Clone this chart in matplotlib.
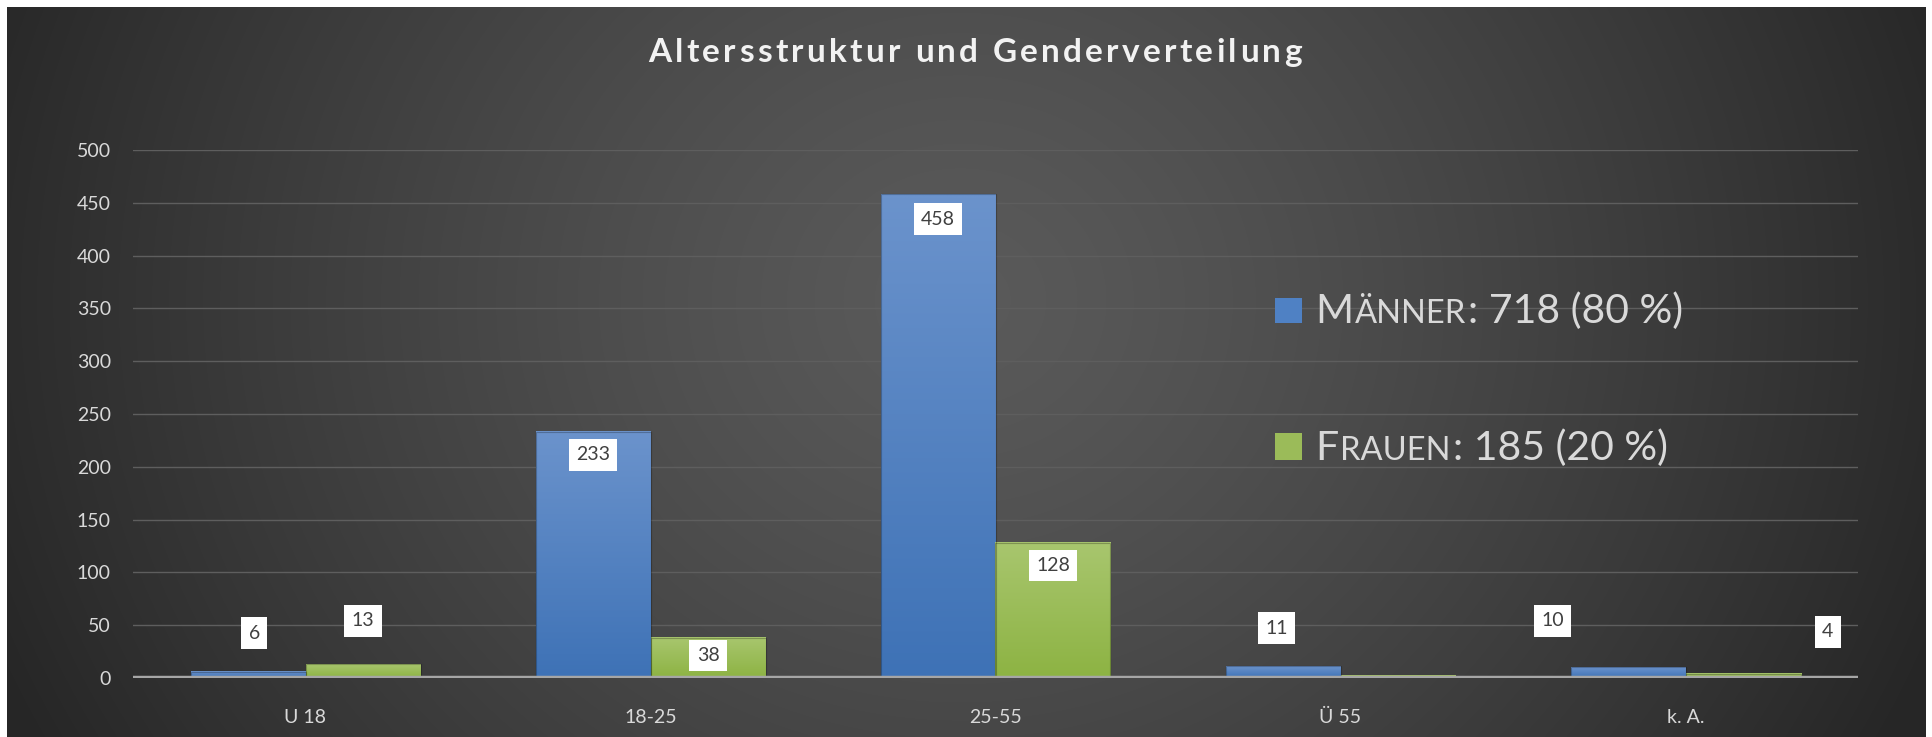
import numpy as np
import matplotlib
matplotlib.use("Agg")
import matplotlib.pyplot as plt
from matplotlib.patches import Rectangle
from matplotlib.font_manager import FontProperties

# ---------------- data ----------------
categories = ["U 18", "18-25", "25-55", "Ü 55", "k. A."]
maenner = [6, 233, 458, 11, 10]
frauen = [13, 38, 128, 2, 4]
yticks = [0, 50, 100, 150, 200, 250, 300, 350, 400, 450, 500]
title = "Altersstruktur und Genderverteilung"
legend_m = ("M", "ÄNNER", ": 718 (80 %)")
legend_f = ("F", "RAUEN", ": 185 (20 %)")
label_m = ["6", "233", "458", "11", "10"]
label_f = ["13", "38", "128", "", "4"]

# ---------------- layout (label placement) ----------------
lab_m_y = [42.6, 211.5, 434.4, 47, 54]
lab_f_y = [54, 21.3, 106.5, None, 43.6]
lab_m_dx = [0.018, 0.0, 0.0, -0.018, -0.218]
lab_f_dx = [0.0, 0.0, 0.0, 0.0, 0.246]

W, H = 1932, 737
DPI = 100
FONT = "Lato"
plt.rcParams["font.family"] = [FONT, "DejaVu Sans"]

fig = plt.figure(figsize=(W / DPI, H / DPI), dpi=DPI)
fig.patch.set_facecolor("white")

# background gradient
bg = fig.add_axes([0, 0, 1, 1], zorder=-10)
yy, xx = np.mgrid[0:H, 0:W]
cx, cy = 960, 300
d = np.sqrt(((xx - cx) / 1050.0) ** 2 + ((yy - cy) / 950.0) ** 2)
d = np.clip(d, 0, 1) ** 1.3
c_center, c_edge = 0x5a / 255.0, 0x26 / 255.0
val = c_center - (c_center - c_edge) * d
img = np.dstack([val, val, val])
# white frame
img[:7, :, :] = 1.0
img[:, :7, :] = 1.0
img[:, W - 6:, :] = 1.0
bg.imshow(img, extent=[0, W, H, 0], aspect="auto", interpolation="bilinear")
bg.set_xlim(0, W)
bg.set_ylim(H, 0)
bg.axis("off")

# main axes
left, right = 133 / W, 1858 / W
bottom = (H - 678) / H
top = (H - 150) / H
ax = fig.add_axes([left, bottom, right - left, top - bottom])
ax.patch.set_alpha(0)
for s in ax.spines.values():
    s.set_visible(False)

x = np.arange(len(categories))
bw = 1 / 3.0

def grad_bar(xc, h, ctop, cbot):
    ctop = np.array(matplotlib.colors.to_rgb(ctop))
    cbot = np.array(matplotlib.colors.to_rgb(cbot))
    t = np.linspace(0, 1, 64)[:, None]
    g = cbot[None, :] * (1 - t) + ctop[None, :] * t
    g = g[:, None, :]
    ax.imshow(g, extent=[xc - bw / 2, xc + bw / 2, 0, h], origin="lower",
              aspect="auto", zorder=3, interpolation="bilinear")
    ax.add_patch(Rectangle((xc - bw / 2, 0), bw, h, fill=False,
                           edgecolor=(0, 0, 0, 0.25), lw=0.8, zorder=3.1))

for i in range(len(categories)):
    grad_bar(x[i] - bw / 2, maenner[i], "#6b93cc", "#3e72b6")
    grad_bar(x[i] + bw / 2, frauen[i], "#a8c66e", "#8db343")

ax.set_xlim(-0.5, len(categories) - 0.5)
ax.set_ylim(0, 500)
ax.set_yticks(yticks)
ax.set_yticklabels([str(v) for v in yticks])
ax.set_xticks(x)
ax.set_xticklabels(categories)
ax.tick_params(axis="both", length=0, colors="#d9d9d9", labelsize=14)
ax.tick_params(axis="y", pad=16)
ax.tick_params(axis="x", pad=22)
ax.grid(axis="y", color="#5e5e5e", lw=1.0, zorder=1)
ax.set_axisbelow(True)
ax.axhline(0, color="#a6a6a6", lw=3.2, zorder=5)

# data labels
bbox = dict(boxstyle="square,pad=0.38", fc="white", ec="none")
for i in range(len(categories)):
    if label_m[i]:
        ax.text(x[i] - bw / 2 + lab_m_dx[i], lab_m_y[i], label_m[i], ha="center",
                va="center", color="#404040", fontsize=14, bbox=bbox, zorder=6)
    if label_f[i] and lab_f_y[i] is not None:
        ax.text(x[i] + bw / 2 + lab_f_dx[i], lab_f_y[i], label_f[i], ha="center",
                va="center", color="#404040", fontsize=14, bbox=bbox, zorder=6)

renderer = fig.canvas.get_renderer()

# title with letter spacing
tprop = FontProperties(family=[FONT, "DejaVu Sans"], weight="bold", size=24)

def text_w(s):
    w_bar, _, _ = renderer.get_text_width_height_descent("|", tprop, ismath=False)
    w, _, _ = renderer.get_text_width_height_descent(s + "|", tprop, ismath=False)
    return w - w_bar

track = 3.3
total = text_w(title) + track * (len(title) - 1)
x0 = 975 - total / 2
for i, ch in enumerate(title):
    if ch == " ":
        continue
    xi = x0 + text_w(title[:i]) + track * i
    fig.text(xi / W, (H - 62) / H, ch, ha="left", va="baseline",
             color="#f2f2f2", fontproperties=tprop)

# legend (small caps emulated)
def legend_entry(parts, color, top_px, base_px):
    fig.patches.append(Rectangle((1275 / W, (H - base_px) / H), 27 / W, (base_px - top_px) / H,
                                 transform=fig.transFigure, facecolor=color,
                                 edgecolor="none", figure=fig))
    xp = 1315
    sizes = [29.5, 23.5, 29.5]
    for p, sz in zip(parts, sizes):
        t = fig.text(xp / W, (H - base_px) / H, p, ha="left", va="baseline",
                     color="#d9d9d9", fontsize=sz)
        bb = t.get_window_extent(renderer)
        xp = bb.x1 + (2 if p != parts[-1] else 0)

legend_entry(legend_m, "#4f81c4", 298, 323)
legend_entry(legend_f, "#9bbb59", 433, 460)

fig.savefig("out.png", dpi=DPI, facecolor=fig.get_facecolor())
